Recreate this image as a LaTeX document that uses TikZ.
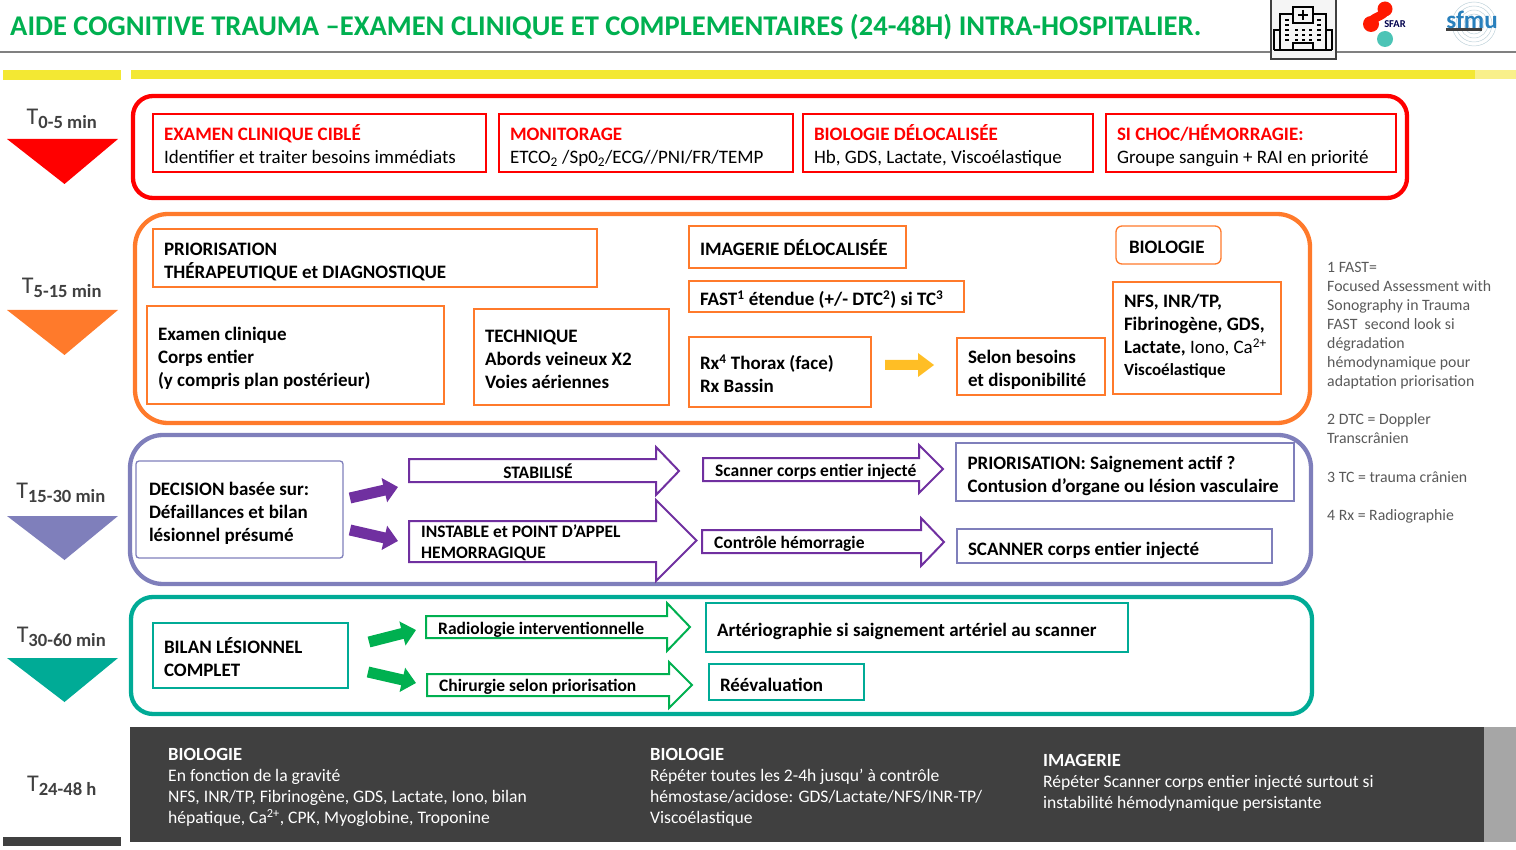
\documentclass[tikz,border=0pt]{standalone}
\usepackage{fontspec}
\setmainfont{Carlito}
\usetikzlibrary{arrows.meta}
\definecolor{cred}{HTML}{FF0000}
\definecolor{corange}{HTML}{FF7A2B}
\definecolor{cblue}{HTML}{7F7FBB}
\definecolor{cteal}{HTML}{00AB96}
\definecolor{cpurple}{HTML}{7030A0}
\definecolor{cgreen}{HTML}{00B050}
\definecolor{cdark}{HTML}{404040}
\definecolor{cyellow}{HTML}{F3E833}
\definecolor{clyellow}{HTML}{F9F08A}
\definecolor{cnote}{HTML}{595959}
\definecolor{cgold}{HTML}{FFBE25}
\newcommand\topstrut{\rule{0pt}{23.5pt}}
\newcommand\botstrut{\rule[-5.5pt]{0pt}{0pt}}
\def\bxpad{11}
\tikzset{
  x=1pt,y=-1pt,
  bfont/.style={font=\fontsize{19}{23}\selectfont},
  boxed/.style={draw=#1,line width=1.3pt,inner xsep=\bxpad pt,inner ysep=0pt,align=flush left,bfont,anchor=center,
    execute at begin node=\topstrut,execute at end node=\botstrut},
  frame/.style={draw=#1,line width=4.3pt,fill=none},
  tlabel/.style={text=cdark,font=\fontsize{24}{26}\selectfont,anchor=center},
  timetri/.style={fill=#1,draw=none},
  atext/.style={font=\bfseries\fontsize{17.5}{21}\selectfont,anchor=west,inner sep=0pt,align=flush left},
  outlined/.style={draw=#1,line width=2pt,fill=white,line join=miter},
  solidarrow/.style={draw=#1,line width=11pt,-{Triangle[length=14pt,width=24pt]}},
  darktext/.style={text=white,font=\fontsize{17.6}{21}\selectfont,anchor=north west,inner sep=0pt,align=flush left},
  note/.style={text=cnote,font=\fontsize{15.8}{19}\selectfont,anchor=north west,inner sep=0pt,align=flush left},
}
% name, x0,y0,x1,y1, style, text
\newcommand\bx[7]{%
  \pgfmathsetmacro\bw{#4-#2}\pgfmathsetmacro\bh{#5-#3}%
  \pgfmathsetmacro\bt{\bw-2*\bxpad}\pgfmathsetmacro\bcx{(#2+#4)/2}\pgfmathsetmacro\bcy{(#3+#5)/2}%
  \node[#6,text width=\bt pt,minimum height=\bh pt] (#1) at (\bcx,\bcy) {#7};}
% name, x0, shaft top, shaft bottom, x head, head top, head bottom, x tip, colour
\newcommand\blockarrow[9]{%
  \pgfmathsetmacro\ym{(#6+#7)/2}%
  \draw[outlined=#9] (#2,#3) -- (#5,#3) -- (#5,#6) -- (#8,\ym) -- (#5,#7) -- (#5,#4) -- (#2,#4) -- cycle;}
\begin{document}
\begin{tikzpicture}
\useasboundingbox (0,0) rectangle (1516,850);
% title
\node[anchor=west,inner sep=0pt,text=cgreen,font=\bfseries\fontsize{28.55}{30}\selectfont] (title) at (10,27)
  {AIDE COGNITIVE TRAUMA –EXAMEN CLINIQUE ET COMPLEMENTAIRES (24-48H) INTRA-HOSPITALIER.};
\fill[white!50!black] (0,51) rectangle (1516,53);
% hospital icon
\draw[fill=black!4,draw=cdark,line width=1.4pt] (1271,-2) rectangle (1336,59);
\begin{scope}[draw=black,line width=1.5pt,fill=none]
  \draw (1274,50) -- (1274,30) -- (1280,30) (1332,50) -- (1332,30) -- (1326,30);
  \draw (1274,50) -- (1332,50);
  \draw (1280,50) -- (1280,14) -- (1293,14) (1326,50) -- (1326,14) -- (1313,14);
  \draw (1293,7) rectangle (1313,23);
  \draw (1303,10) -- (1303,20) (1298,15) -- (1308,15);
  \draw (1293,50) -- (1293,43) -- (1313,43) -- (1313,50);
  \foreach \yy in {19,24,29,34,39} {
    \fill (1285,\yy) rectangle (1289,\yy+2.2);
    \fill (1317,\yy) rectangle (1321,\yy+2.2);
  }
  \foreach \yy in {29,34,39} { \foreach \xx in {1295,1302,1309} {
    \fill (\xx,\yy) rectangle (\xx+3,\yy+2.2);
  }}
\end{scope}
% SFAR
\draw[line width=9pt,draw=cred!80!orange,line cap=round] (1385,9) .. controls (1386,17) and (1371,16) .. (1371,24);
\fill[cred!80!orange] (1385,9) circle (7.5) (1371,24) circle (8);
\fill[cteal!70!white] (1385,39) circle (8);
\node[inner sep=0pt,font=\bfseries\fontsize{10.5}{11}\selectfont,text=blue!30!black] (sfar) at (1395,24) {SFAR};
% SFMU
\foreach \r in {6,10,14,18,22} { \draw[cyan!30!gray!45,line width=.5pt] (1474,24) circle (\r); }
\fill[cdark] (1446,28.5) rectangle (1482,31);
\node[inner sep=0pt,font=\bfseries\fontsize{25}{26}\selectfont,text=cyan!70!blue!85!black] (sfmu) at (1472,20) {sfmu};
% yellow bars
\fill[cyellow] (3,70) rectangle (121,80);
\fill[cyellow] (131,70) rectangle (1475,79);
\fill[clyellow] (1475,70) rectangle (1516,79);
% time labels and triangles
\node[tlabel] (t1) at (62,119) {T\textsubscript{\fontsize{18.6}{20}\selectfont\bfseries 0-5 min}};
\node[tlabel] (t2) at (62,288) {T\textsubscript{\fontsize{18.6}{20}\selectfont\bfseries 5-15 min}};
\node[tlabel] (t3) at (61,493) {T\textsubscript{\fontsize{18.6}{20}\selectfont\bfseries 15-30 min}};
\node[tlabel] (t4) at (61.5,637) {T\textsubscript{\fontsize{18.6}{20}\selectfont\bfseries 30-60 min}};
\node[tlabel] (t5) at (62,786) {T\textsubscript{\fontsize{18.6}{20}\selectfont\bfseries 24-48 h}};
\fill[timetri=cred] (7,139) -- (118,139) -- (64.5,184) -- cycle;
\fill[timetri=corange] (7,310) -- (118,310) -- (64.5,355) -- cycle;
\fill[timetri=cblue] (7,516) -- (118,516) -- (64.5,560) -- cycle;
\fill[timetri=cteal] (7,658) -- (118,658) -- (64.5,702) -- cycle;
% frames
\draw[frame=cred,rounded corners=20pt] (133,96) rectangle (1407,198);
\draw[frame=corange,rounded corners=33pt] (135,214) rectangle (1310,423);
\draw[frame=cblue,rounded corners=33pt] (130,435) rectangle (1311,584);
\draw[frame=cteal,rounded corners=22pt] (131,597) rectangle (1312,714);
% red row
\bx{r1}{153}{114}{486}{172}{boxed=cred}{\textcolor{cred}{\bfseries EXAMEN CLINIQUE CIBLÉ}\\Identifier et traiter besoins immédiats}
\bx{r2}{499}{114}{793}{172}{boxed=cred}{\textcolor{cred}{\bfseries MONITORAGE}\\ETCO\textsubscript{2} /Sp0\textsubscript{2}/ECG//PNI/FR/TEMP}
\bx{r3}{803}{114}{1093}{172}{boxed=cred}{\textcolor{cred}{\bfseries BIOLOGIE DÉLOCALISÉE}\\Hb, GDS, Lactate, Viscoélastique}
\bx{r4}{1106}{114}{1396}{172}{boxed=cred}{\textcolor{cred}{\bfseries SI CHOC/HÉMORRAGIE:}\\Groupe sanguin + RAI en priorité}
% orange block
\bx{o1}{153}{229}{597}{287}{boxed=corange}{\bfseries PRIORISATION\\\bfseries THÉRAPEUTIQUE et DIAGNOSTIQUE}
\bx{o2}{147}{306}{444}{404}{boxed=corange}{\bfseries Examen clinique\\\bfseries Corps entier\\\bfseries (y compris plan postérieur)}
\bx{o3}{474}{309}{669}{405}{boxed=corange}{\bfseries TECHNIQUE\\\bfseries Abords veineux X2\\\bfseries Voies aériennes}
\bx{o4}{689}{226}{906}{268}{boxed=corange}{\bfseries IMAGERIE DÉLOCALISÉE}
\bx{o5}{689}{281}{964}{312}{boxed=corange}{\bfseries FAST\textsuperscript{1} étendue (+/- DTC\textsuperscript{2}) si TC\textsuperscript{3}}
\bx{o6}{689}{337}{871}{407}{boxed=corange}{\bfseries Rx\textsuperscript{4} Thorax (face)\\\bfseries Rx Bassin}
\bx{o7}{957}{338}{1105}{395}{boxed=corange}{\bfseries Selon besoins\\\bfseries et disponibilité}
\def\bxpad{13}
\bx{o8}{1116}{226}{1221}{264}{boxed=corange,rounded corners=6pt}{\bfseries BIOLOGIE}
\def\bxpad{11}
\bx{o9}{1113}{282}{1281}{394}{boxed=corange}{\bfseries NFS, INR/TP,\\\bfseries Fibrinogène, GDS,\\\bfseries Lactate, \mdseries Iono, Ca\textsuperscript{2+}\\[-1pt]{\bfseries\fontsize{17}{21}\selectfont Viscoélastique}\rule[-16pt]{0pt}{0pt}}
\fill[cgold] (885,360) -- (918,360) -- (918,353) -- (934,365) -- (918,377) -- (918,370) -- (885,370) -- cycle;
% purple block
\def\bxpad{13}
\bx{p0}{136}{461}{343}{558}{boxed=cblue,rounded corners=3pt}{\bfseries DECISION basée sur:\\\bfseries Défaillances et bilan\\\bfseries lésionnel présumé}
\def\bxpad{11.5}
\bx{p5}{956}{443}{1294}{501}{boxed=cblue}{\bfseries PRIORISATION: Saignement actif ?\\\bfseries Contusion d’organe ou lésion vasculaire}
\def\bxpad{11}
\bx{p6}{957}{529}{1272}{563}{boxed=cblue}{\bfseries SCANNER corps entier injecté}
\blockarrow{a1}{409}{459}{482}{656}{447}{495}{679}{cpurple}
\blockarrow{a2}{703}{458}{481}{919}{445}{493}{943}{cpurple}
\blockarrow{a3}{409}{521}{562}{656}{500}{581}{696.5}{cpurple}
\blockarrow{a4}{702}{530}{553}{921}{518}{566}{944}{cpurple}
\node[atext,anchor=center] (p1) at (538,471) {STABILISÉ};
\node[atext] (p2) at (715,472) {Scanner corps entier injecté};
\node[atext,anchor=north west] (p3) at (421,525) {INSTABLE et POINT D’APPEL\\HEMORRAGIQUE};
\node[atext] (p4) at (714,544) {Contrôle hémorragie};
\coordinate (s1a) at (350,498); \coordinate (s1b) at (398,487);
\coordinate (s2a) at (350,530); \coordinate (s2b) at (398,541);
\draw[solidarrow=cpurple] (s1a) -- (s1b);
\draw[solidarrow=cpurple] (s2a) -- (s2b);
% teal block
\bx{g0}{153}{623}{348}{688}{boxed=cteal}{\bfseries BILAN LÉSIONNEL\\\bfseries COMPLET}
\bx{g3}{706}{603}{1128}{652}{boxed=cteal}{\bfseries Artériographie si saignement artériel au scanner}
\bx{g4}{709}{664}{864}{700}{boxed=cteal}{\bfseries Réévaluation}
\blockarrow{a5}{426}{616}{638}{667}{603}{651}{690}{cgreen}
\blockarrow{a6}{427}{674}{696}{669}{662}{708}{692}{cgreen}
\node[atext] (g1) at (438,630) {Radiologie interventionnelle};
\node[atext] (g2) at (439,687) {Chirurgie selon priorisation};
\coordinate (s3a) at (369,642); \coordinate (s3b) at (416,630);
\coordinate (s4a) at (368,672); \coordinate (s4b) at (416,683);
\draw[solidarrow=cgreen] (s3a) -- (s3b);
\draw[solidarrow=cgreen] (s4a) -- (s4b);
% bottom band
\fill[cdark] (130,727) rectangle (1484,842);
\fill[black!35] (1484,727) rectangle (1516,842);
\fill[cdark] (3,837) rectangle (121,846);
\node[darktext] (d1) at (168,748) {{\bfseries\fontsize{18.6}{20}\selectfont BIOLOGIE}\\En fonction de la gravité\\NFS, INR/TP, Fibrinogène, GDS, Lactate, Iono, bilan\\hépatique, Ca\textsuperscript{2+}, CPK, Myoglobine, Troponine};
\node[darktext] (d2) at (650,748) {{\bfseries\fontsize{18.6}{20}\selectfont BIOLOGIE}\\Répéter toutes les 2-4h jusqu’ à contrôle\\hémostase/acidose: GDS/Lactate/NFS/INR-TP/\\Viscoélastique};
\node[darktext] (d3) at (1043,754) {{\bfseries\fontsize{18.6}{20}\selectfont IMAGERIE}\\Répéter Scanner corps entier injecté surtout si\\instabilité hémodynamique persistante};
% notes
\node[note] (n1) at (1327,262) {1 FAST=\\Focused Assessment with\\Sonography in Trauma\\FAST\ \ second look si\\dégradation\\hémodynamique pour\\adaptation priorisation};
\node[note] (n2) at (1327,413) {2 DTC = Doppler\\Transcrânien};
\node[note] (n3) at (1327,471) {3 TC = trauma crânien};
\node[note] (n4) at (1327,509) {4 Rx = Radiographie};
\end{tikzpicture}
\end{document}
